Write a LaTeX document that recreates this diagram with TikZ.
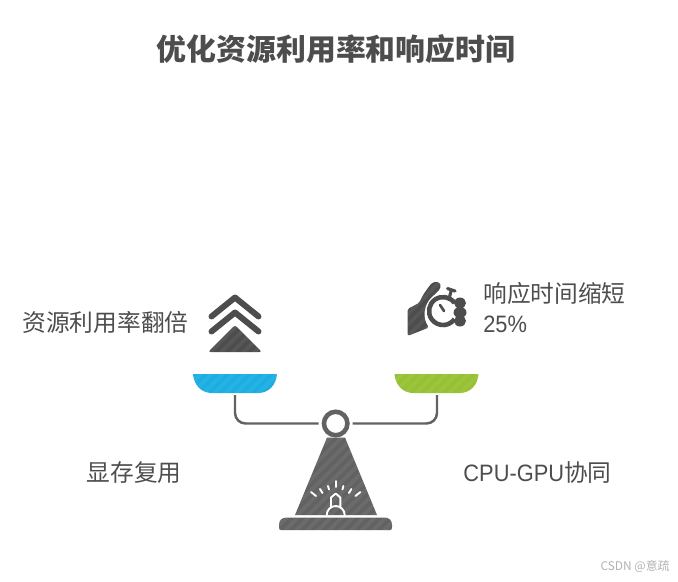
\documentclass[tikz,border=0pt]{standalone}
\usepackage{fontspec}
\setmainfont[FakeStretch=0.92]{Liberation Sans}
\newfontfamily\cjk{Noto Sans CJK SC}
\definecolor{inkgray}{RGB}{77, 77, 77}
\definecolor{scalegray}{RGB}{98, 98, 98}
\definecolor{panblue}{RGB}{27, 174, 226}
\definecolor{pangreen}{RGB}{150, 193, 51}
\tikzset{
    label/.style={font=\fontsize{13.5}{17}\selectfont, text=inkgray, inner sep=0pt},
    hatched/.style={path picture={
        \foreach \k in {-14,...,14} {
            \draw[white, opacity=0.06, line width=2.2pt, shift={(path picture bounding box.center)}]
                (\k*11-110, 110) -- (\k*11+110, -110);
        }
    }},
    beam/.style={draw=scalegray, line width=1.4pt, rounded corners=6pt},
    whiteline/.style={draw=white, line width=1.1pt, line cap=round},
}
\begin{document}
\begin{tikzpicture}[x=0.02cm, y=-0.02cm]
    \useasboundingbox (0, 0) rectangle (678, 581);

    % Title
    \node[font=\fontsize{17}{20}\selectfont\cjk\bfseries, text=inkgray] (title) at (336, 49) {优化资源利用率和响应时间};

    % Labels
    \node[label] (leftgain) at (105.5, 322.5) {\cjk 资源利用率翻倍};
    \node[label, anchor=west, align=left] (rightgain) at (483, 307.5) {{\cjk 响应时间缩短}\\25\%};
    \node[label] (leftname) at (134, 473) {\cjk 显存复用};
    \node[label] (rightname) at (537.5, 473) {CPU-GPU{\cjk 协同}};
    \node[font=\fontsize{6.8}{8}\selectfont\cjk, text=black!30, anchor=east, inner sep=0pt] (mark) at (670, 566) {CSDN @意疏};

    % Pans
    \fill[panblue, hatched] (193, 374) -- (277, 374) .. controls (276, 385) and (269, 393) .. (258, 393)
        -- (212, 393) .. controls (201, 393) and (194, 385) .. (193, 374) -- cycle;
    \fill[pangreen, hatched] (394.5, 374) -- (478.5, 374) .. controls (477.5, 385) and (470.5, 393) .. (459.5, 393)
        -- (413.5, 393) .. controls (402.5, 393) and (395.5, 385) .. (394.5, 374) -- cycle;
    \coordinate (panleft) at (235, 395);
    \coordinate (panright) at (437, 395);

    % Pivot and beam
    \node[draw=scalegray, circle, line width=2.6pt, minimum size=0.47cm, inner sep=0pt, outer sep=3pt] (pivot) at (335.7, 423.5) {};
    \draw[beam] (panleft) |- (pivot);
    \draw[beam] (panright) |- (pivot);

    % Stand
    \fill[scalegray, hatched] (327, 437.5) -- (345, 437.5) -- (377, 515) -- (295, 515) -- cycle;
    \fill[scalegray, hatched] (281, 530) .. controls (279.5, 530) and (279, 529) .. (279, 527) -- (279, 525)
        .. controls (279, 520) and (282, 517.5) .. (287, 517.5) -- (384, 517.5)
        .. controls (389, 517.5) and (392, 520) .. (392, 525) -- (392, 527)
        .. controls (392, 529) and (391.5, 530) .. (390, 530) -- cycle;

    % Bell on the stand
    \foreach \xa/\ya/\xb/\yb in {335.7/481/335.7/487, 328/486/329/489.5, 343.4/486/342.4/489.5, 320/489/322.5/493, 351.4/489/348.9/493, 311/492/316/496, 360.4/492/355.4/496} {
        \draw[whiteline] (\xa, \ya) -- (\xb, \yb);
    }
    \draw[whiteline, line join=round] (331, 507) -- (331, 497.5) -- (335.7, 493.5) -- (340.4, 497.5) -- (340.4, 507);
    \draw[whiteline] (326.7, 515) arc[start angle=180, end angle=360, radius=9];

    % Chevrons
    \foreach \y in {0, 15} {
        \draw[inkgray, line width=3.4pt, line cap=round, line join=round] (211.5, 316.5+\y) -- (235, 297.5+\y) -- (258.5, 316.5+\y);
    }
    \fill[inkgray, hatched, rounded corners=1.5pt] (235, 325) -- (262, 352) -- (208, 352) -- cycle;

    % Hand with stopwatch
    \fill[inkgray, hatched, rounded corners=1pt] (407.5, 309) -- (419, 303) -- (423, 295) -- (430, 285)
        .. controls (435, 280) and (442, 282) .. (440, 289) -- (433, 296)
        .. controls (424, 304) and (422, 318) .. (429, 327.5) -- (407.5, 336) -- cycle;
    \draw[inkgray, line width=2.6pt] (454.5, 303) arc[start angle=-35, end angle=-325, radius=14];
    \draw[inkgray, line width=1.5pt, line cap=round] (440, 305) -- (444, 311);
    \draw[inkgray, line width=1.8pt] (449.5, 297) -- (451.5, 289.5);
    \draw[inkgray, line width=1.8pt, line cap=round] (447.5, 288.5) -- (455, 291);
    \foreach \cy/\rx in {303/6, 312.5/6.5, 321/6} {
        \fill[inkgray] (460, \cy) ellipse[x radius=\rx, y radius=5.5];
    }
\end{tikzpicture}
\end{document}
